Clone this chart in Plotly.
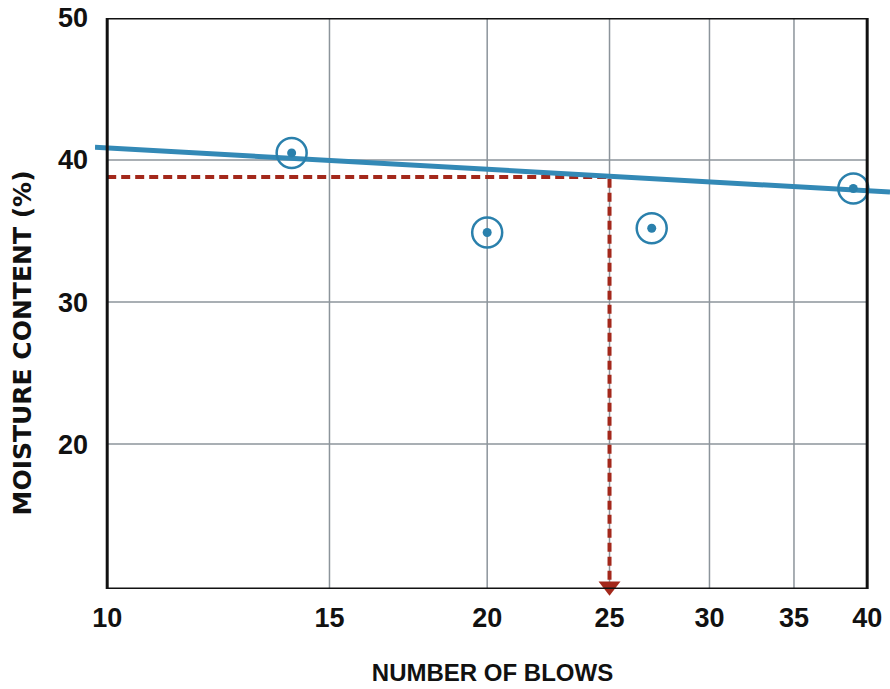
import math
import plotly.graph_objects as go

# ---- data ----
blows = [14, 20, 27, 39]
moisture = [40.5, 34.9, 35.2, 38.0]

flow_x = [9.78, 41.7]          # flow line end points (number of blows)
flow_y = [40.9, 37.75]         # moisture content at those end points

ll_blows = 25                  # standard blow count
ll_value = 38.8                # liquid limit

x_ticks = [10, 15, 20, 25, 30, 35, 40]
x_tick_labels = ["10", "15", "20", "25", "30", "35", "40"]
y_ticks = [20, 30, 40, 50]
y_tick_labels = ["20", "30", "40", "50"]
x_grid = [15, 20, 25, 30, 35]
y_grid = [20, 30, 40]
frame_x = [10, 40]
frame_y = [9.8, 50]
x_view = [9.78, 41.7]

BLUE_LINE = "#3389B6"
BLUE_MARK = "#2A80AC"
RED = "#A3281B"
GRID = "#8C949B"

fig = go.Figure()

# red dashed construction line
fig.add_trace(go.Scatter(
    x=[frame_x[0], ll_blows, ll_blows],
    y=[ll_value, ll_value, frame_y[0]],
    mode="lines",
    line=dict(color=RED, width=4, dash="9px,5px"),
    hoverinfo="skip", showlegend=False))

# arrow head
fig.add_trace(go.Scatter(
    x=[ll_blows], y=[10.0], mode="markers",
    marker=dict(symbol="triangle-down", size=19, color=RED),
    cliponaxis=False, hoverinfo="skip", showlegend=False))

# flow line
fig.add_trace(go.Scatter(
    x=flow_x, y=flow_y, mode="lines",
    line=dict(color=BLUE_LINE, width=5),
    hoverinfo="skip", showlegend=False))

# data points: ring + dot
fig.add_trace(go.Scatter(
    x=blows, y=moisture, mode="markers",
    marker=dict(symbol="circle-open", size=30, color=BLUE_MARK,
                line=dict(width=2.5, color=BLUE_MARK)),
    cliponaxis=False, showlegend=False))
fig.add_trace(go.Scatter(
    x=blows, y=moisture, mode="markers",
    marker=dict(symbol="circle", size=9, color=BLUE_MARK),
    cliponaxis=False, showlegend=False))

shapes = []
for gx in x_grid:
    shapes.append(dict(type="line", xref="x", yref="y", x0=gx, x1=gx,
                       y0=frame_y[0], y1=frame_y[1],
                       line=dict(color=GRID, width=1.5), layer="below"))
for gy in y_grid:
    shapes.append(dict(type="line", xref="x", yref="y", x0=frame_x[0], x1=frame_x[1],
                       y0=gy, y1=gy,
                       line=dict(color=GRID, width=1.5), layer="below"))
shapes.append(dict(type="rect", xref="x", yref="y",
                   x0=frame_x[0], x1=frame_x[1], y0=frame_y[0], y1=frame_y[1],
                   line=dict(color="#111111", width=3), layer="above"))

fig.update_layout(
    width=890, height=689,
    margin=dict(l=95, r=0, t=18, b=100),
    paper_bgcolor="white", plot_bgcolor="white",
    shapes=shapes,
    xaxis=dict(
        type="log", automargin=False,
        range=[math.log10(x_view[0]), math.log10(x_view[1])],
        tickvals=x_ticks, ticktext=x_tick_labels,
        showgrid=False, zeroline=False, showline=False,
        ticks="", ticklabelstandoff=10, ticklabeloverflow="allow",
        tickfont=dict(family="Liberation Sans", size=27, color="#111111", weight="bold"),
        title=dict(text="NUMBER OF BLOWS", standoff=32,
                   font=dict(family="Liberation Sans", size=24,
                             color="#111111", weight="bold")),
    ),
    yaxis=dict(
        automargin=False,
        range=frame_y,
        tickvals=y_ticks, ticktext=y_tick_labels,
        showgrid=False, zeroline=False, showline=False,
        ticks="", ticklabelstandoff=6, ticklabeloverflow="allow",
        tickfont=dict(family="Liberation Sans", size=27, color="#111111", weight="bold"),
    ),
    annotations=[dict(
        text="MOISTURE CONTENT (%)", textangle=-90,
        xref="paper", yref="paper", x=-0.0918, y=0.43,
        xanchor="center", yanchor="middle", showarrow=False,
        font=dict(family="DejaVu Sans", size=25, color="#111111", weight="bold"),
    )],
)

fig.write_html("out.html",
               config={"displayModeBar": False},
               post_script="document.body.style.margin='0';document.body.style.overflow='hidden';")
